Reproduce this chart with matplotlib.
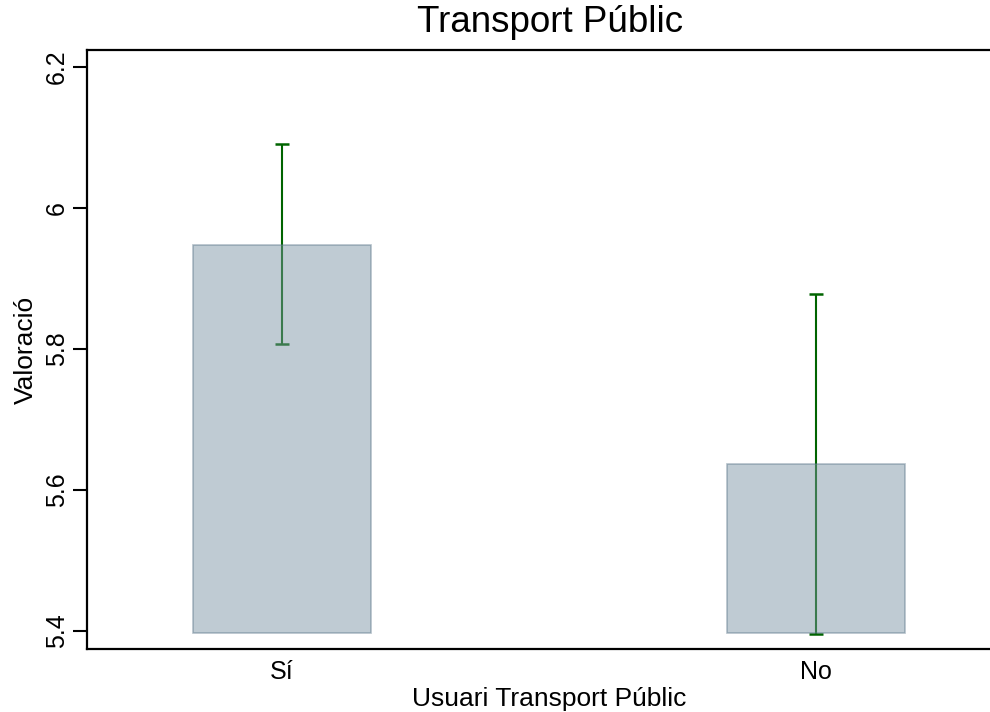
import matplotlib
matplotlib.use("Agg")
import matplotlib.pyplot as plt

categories = ["Sí", "No"]
means = [5.947, 5.636]
ci_low = [5.806, 5.396]
ci_high = [6.091, 5.878]
base = 5.397
yticks = [5.4, 5.6, 5.8, 6.0, 6.2]
ytick_labels = ["5.4", "5.6", "5.8", "6", "6.2"]

plt.rcParams['font.family'] = ['Liberation Sans', 'DejaVu Sans']

fig = plt.figure(figsize=(9.9, 7.12), dpi=100)
ax = fig.add_axes([87/990, 1 - 649.3/712, (1011 - 87)/990, (649.3 - 50)/712])

x = list(range(len(categories)))
err_lo = [m - l for m, l in zip(means, ci_low)]
err_hi = [h - m for m, h in zip(means, ci_high)]
ax.errorbar(x, means, yerr=[err_lo, err_hi], fmt='none', ecolor='#006400',
            elinewidth=1.5, capsize=5, capthick=1.8, zorder=2)
heights = [m - base for m in means]
ax.bar(x, heights, bottom=base, width=0.332, color='#7B93A3', alpha=0.48,
       edgecolor='#5F7A8C', linewidth=1.2, zorder=3)

ax.set_xlim(-0.365, 1.365)
ax.set_ylim(5.3736, 6.2237)
ax.set_yticks(yticks)
ax.set_yticklabels(ytick_labels, rotation=90, va='center', fontsize=18)
ax.set_xticks(x)
ax.set_xticklabels(categories, fontsize=18)
ax.tick_params(axis='y', length=10, width=1.5, pad=3)
ax.tick_params(axis='x', length=0, pad=8)

for s in ['left', 'bottom', 'top']:
    ax.spines[s].set_linewidth(1.6)
ax.spines['right'].set_visible(False)

ax.set_ylabel("Valoració", fontsize=19, labelpad=5)
ax.set_xlabel("Usuari Transport Públic", fontsize=19, labelpad=2)
fig.text(550/990, 1 - 22/712, "Transport Públic", fontsize=26.5,
         ha='center', va='center')

fig.savefig("out.png", dpi=100)
